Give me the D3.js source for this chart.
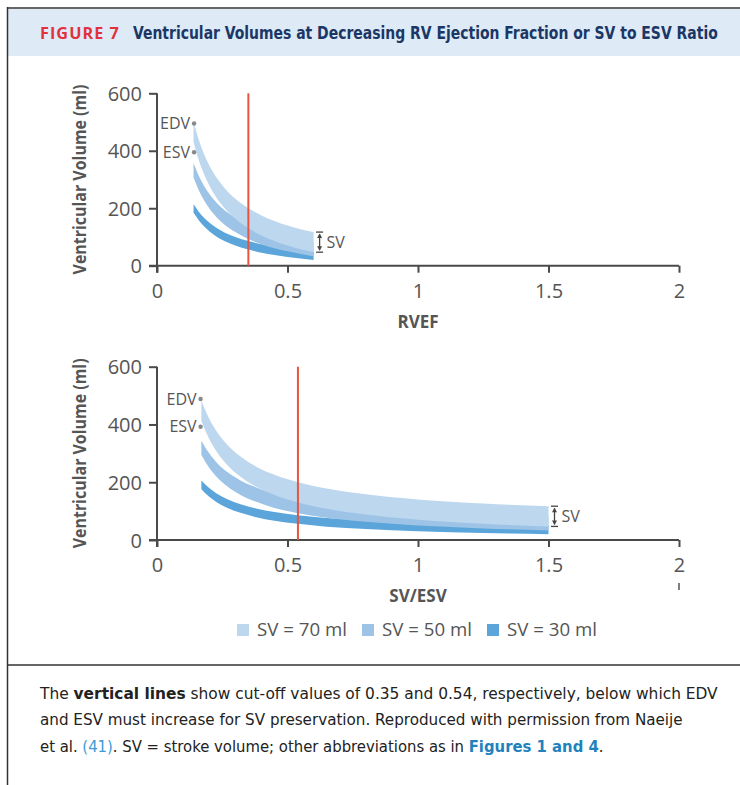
<html>
<head>
<meta charset="utf-8" />
<script src="https://d3js.org/d3.v7.min.js"></script>
<style>
  body { margin: 0; background: #fff; }
  svg { display: block; }
  .tick text { font-family: "Open Sans", sans-serif; font-size: 20px; fill: #555; }
</style>
</head>
<body>
<div id="viz"></div>
<script>
// tick labels
var yTicks = [0, 200, 400, 600];
var xTicks = [0, 0.5, 1, 1.5, 2];
var xTickLabels = ["0", "0.5", "1", "1.5", "2"];

// series
var seriesNames = ["SV = 70 ml", "SV = 50 ml", "SV = 30 ml"];
var seriesColors = ["#bdd7ee", "#9dc3e6", "#5ba5da"];

// top panel: RVEF
var rvef = [0.14, 0.16, 0.18, 0.20, 0.23, 0.26, 0.30, 0.35, 0.40, 0.45, 0.50, 0.55, 0.60];
var rvefEdv70 = [500, 438, 389, 350, 304, 269, 233, 200, 175, 156, 140, 127, 117];
var rvefEsv70 = [430, 368, 319, 280, 234, 199, 163, 130, 105, 86, 70, 57, 47];
var rvefEdv50 = [357, 313, 278, 250, 217, 192, 167, 143, 125, 111, 100, 91, 83];
var rvefEsv50 = [307, 263, 228, 200, 167, 142, 117, 93, 75, 61, 50, 41, 33];
var rvefEdv30 = [214, 188, 167, 150, 130, 115, 100, 86, 75, 67, 60, 55, 50];
var rvefEsv30 = [184, 158, 137, 120, 100, 85, 70, 56, 45, 37, 30, 25, 20];

// bottom panel: SV/ESV
var svEsv = [0.17, 0.20, 0.23, 0.27, 0.32, 0.38, 0.45, 0.54, 0.65, 0.80, 1.00, 1.25, 1.50];
var ratioEdv70 = [482, 420, 374, 329, 289, 254, 226, 200, 178, 158, 140, 126, 117];
var ratioEsv70 = [412, 350, 304, 259, 219, 184, 156, 130, 108, 88, 70, 56, 47];
var ratioEdv50 = [344, 300, 267, 235, 206, 182, 161, 143, 127, 113, 100, 90, 83];
var ratioEsv50 = [294, 250, 217, 185, 156, 132, 111, 93, 77, 63, 50, 40, 33];
var ratioEdv30 = [206, 180, 160, 141, 124, 109, 97, 86, 76, 68, 60, 54, 50];
var ratioEsv30 = [176, 150, 130, 111, 94, 79, 67, 56, 46, 38, 30, 24, 20];

// cut-offs and EDV/ESV marker points
var cutoffs = [0.35, 0.54];
var markerX = [0.142, 0.167];
var markerEdv = [495, 488];
var markerEsv = [395, 392];

var svg = d3.select("#viz").append("svg").attr("width", 740).attr("height", 785);

// squeeze a text horizontally so it spans a given width
function fitText(sel, x, y, width) {
  var w = sel.node().getComputedTextLength();
  sel.attr("transform", "translate(" + x + "," + y + ") scale(" + (width / w) + ",1)");
}

// frame and header
svg.append("rect").attr("x", 8).attr("y", 9).attr("width", 732).attr("height", 47).attr("fill", "#deeaf6");
svg.append("line").attr("x1", 7).attr("x2", 740).attr("y1", 8).attr("y2", 8).attr("stroke", "#333").attr("stroke-width", 1.5);
svg.append("line").attr("x1", 7.5).attr("x2", 7.5).attr("y1", 7).attr("y2", 785).attr("stroke", "#333").attr("stroke-width", 1.5);
svg.append("line").attr("x1", 7).attr("x2", 740).attr("y1", 665).attr("y2", 665).attr("stroke", "#333").attr("stroke-width", 1.5);

var fig = svg.append("text")
  .attr("font-family", "'Open Sans', sans-serif").attr("font-weight", "bold").attr("font-size", 15.5)
  .attr("letter-spacing", 1).attr("fill", "#e2313c").text("FIGURE 7");
fitText(fig, 40, 39, 80);
var title = svg.append("text")
  .attr("font-family", "'DejaVu Sans Condensed', 'Open Sans', sans-serif").attr("font-weight", "bold").attr("font-size", 17)
  .attr("fill", "#1a3766").text("Ventricular Volumes at Decreasing RV Ejection Fraction or SV to ESV Ratio");
fitText(title, 133, 39, 585);

var x = d3.scaleLinear().domain([0, 2]).range([157, 679]);

function panel(top, bottom, xs, edv, esv, k, xLabel) {
  var y = d3.scaleLinear().domain([0, 600]).range([bottom, top]);
  var g = svg.append("g");

  var area = d3.area().curve(d3.curveMonotoneX)
    .x(function (d) { return x(d.x); })
    .y0(function (d) { return y(d.lo); })
    .y1(function (d) { return y(d.hi); });

  // draw SV=30 first, SV=70 on top
  for (var s = 2; s >= 0; s--) {
    var pts = xs.map(function (v, i) { return { x: v, hi: edv[s][i], lo: esv[s][i] }; });
    g.append("path").attr("d", area(pts)).attr("fill", seriesColors[s]);
  }

  var xAxis = d3.axisBottom(x).tickValues(xTicks).tickSize(7).tickSizeOuter(0).tickPadding(11)
    .tickFormat(function (d, i) { return xTickLabels[i]; });
  var yAxis = d3.axisLeft(y).tickValues(yTicks).tickSize(8).tickSizeOuter(0).tickPadding(7);

  var gx = g.append("g").attr("transform", "translate(0," + bottom + ")").call(xAxis);
  var gy = g.append("g").attr("transform", "translate(157,0)").call(yAxis);
  [gx, gy].forEach(function (a) {
    a.selectAll("path, line").attr("stroke", "#4a4a4a").attr("stroke-width", 2);
  });
  gy.select(".domain").attr("d", "M0," + top + "V" + (bottom + 7));
  gx.select(".domain").attr("d", "M149,0H679");
  gy.selectAll(".tick text").attr("dy", "0.36em");

  // cut-off line
  g.append("line").attr("x1", x(cutoffs[k])).attr("x2", x(cutoffs[k]))
    .attr("y1", y(600)).attr("y2", y(0)).attr("stroke", "#e8553f").attr("stroke-width", 2);

  // EDV / ESV markers
  [["EDV", markerEdv[k]], ["ESV", markerEsv[k]]].forEach(function (m) {
    g.append("circle").attr("cx", x(markerX[k])).attr("cy", y(m[1])).attr("r", 2.2).attr("fill", "#888");
    g.append("text").attr("x", x(markerX[k]) - 4).attr("y", y(m[1])).attr("dy", "0.35em")
      .attr("text-anchor", "end").attr("font-family", "'Open Sans', sans-serif").attr("font-size", 16)
      .attr("fill", "#555").text(m[0]);
  });

  // SV bracket
  var last = xs.length - 1;
  var bx = x(xs[last]) + 6, by1 = y(edv[0][last]), by2 = y(esv[0][last]);
  var br = g.append("g").attr("stroke", "#444").attr("stroke-width", 1.3);
  br.append("line").attr("x1", bx - 3.5).attr("x2", bx + 3.5).attr("y1", by1).attr("y2", by1);
  br.append("line").attr("x1", bx - 3.5).attr("x2", bx + 3.5).attr("y1", by2).attr("y2", by2);
  br.append("line").attr("x1", bx).attr("x2", bx).attr("y1", by1 + 2).attr("y2", by2 - 2);
  g.append("path").attr("d", "M" + (bx - 2.5) + "," + (by1 + 6) + "L" + bx + "," + (by1 + 1.5) + "L" + (bx + 2.5) + "," + (by1 + 6) + "Z").attr("fill", "#444");
  g.append("path").attr("d", "M" + (bx - 2.5) + "," + (by2 - 6) + "L" + bx + "," + (by2 - 1.5) + "L" + (bx + 2.5) + "," + (by2 - 6) + "Z").attr("fill", "#444");
  g.append("text").attr("x", bx + 7).attr("y", (by1 + by2) / 2).attr("dy", "0.35em")
    .attr("font-family", "'Open Sans', sans-serif").attr("font-size", 16).attr("fill", "#555").text("SV");

  // axis titles
  g.append("text").attr("x", 418).attr("y", bottom + 62).attr("text-anchor", "middle")
    .attr("font-family", "'Open Sans', sans-serif").attr("font-weight", "bold").attr("font-size", 17)
    .attr("fill", "#555").text(xLabel);
  var yl = g.append("text").attr("text-anchor", "middle").attr("font-family", "'Open Sans', sans-serif")
    .attr("font-weight", "bold").attr("font-size", 17).attr("fill", "#555")
    .text("Ventricular Volume (ml)");
  var yw = yl.node().getComputedTextLength();
  yl.attr("transform", "translate(86," + ((top + bottom) / 2) + ") rotate(-90) scale(" + (190 / yw) + ",1)");
}

panel(93.3, 265.7, rvef, [rvefEdv70, rvefEdv50, rvefEdv30], [rvefEsv70, rvefEsv50, rvefEsv30], 0, "RVEF");
panel(366.7, 540, svEsv, [ratioEdv70, ratioEdv50, ratioEdv30], [ratioEsv70, ratioEsv50, ratioEsv30], 1, "SV/ESV");

// stray tick under "2" in the lower panel
svg.append("line").attr("x1", x(2)).attr("x2", x(2)).attr("y1", 583).attr("y2", 590).attr("stroke", "#555").attr("stroke-width", 1.5);

// legend
var legendX = [237, 362, 487];
seriesNames.forEach(function (name, i) {
  svg.append("rect").attr("x", legendX[i]).attr("y", 624).attr("width", 12).attr("height", 12).attr("fill", seriesColors[i]);
  var t = svg.append("text").attr("dy", "0.36em")
    .attr("font-family", "'Open Sans', sans-serif").attr("font-size", 18).attr("fill", "#555").text(name);
  fitText(t, legendX[i] + 20, 630, 90);
});

// caption
var capFont = "'DejaVu Sans Condensed', 'Open Sans', sans-serif";
var c1 = svg.append("text").attr("font-family", capFont).attr("font-size", 16.5).attr("fill", "#222");
c1.append("tspan").text("The ");
c1.append("tspan").attr("font-weight", "bold").text("vertical lines");
c1.append("tspan").text(" show cut-off values of 0.35 and 0.54, respectively, below which EDV");
fitText(c1, 40, 699, 678);
var c2 = svg.append("text").attr("font-family", capFont).attr("font-size", 16.5).attr("fill", "#222")
  .text("and ESV must increase for SV preservation. Reproduced with permission from Naeije");
fitText(c2, 40, 725, 643);
var c3 = svg.append("text").attr("font-family", capFont).attr("font-size", 16.5).attr("fill", "#222");
c3.append("tspan").text("et al. ");
c3.append("tspan").attr("fill", "#3d9ad6").text("(41)");
c3.append("tspan").text(". SV = stroke volume; other abbreviations as in ");
c3.append("tspan").attr("font-weight", "bold").attr("fill", "#1f82bd").text("Figures 1 and 4");
c3.append("tspan").text(".");
fitText(c3, 40, 752, 564);
</script>
</body>
</html>
